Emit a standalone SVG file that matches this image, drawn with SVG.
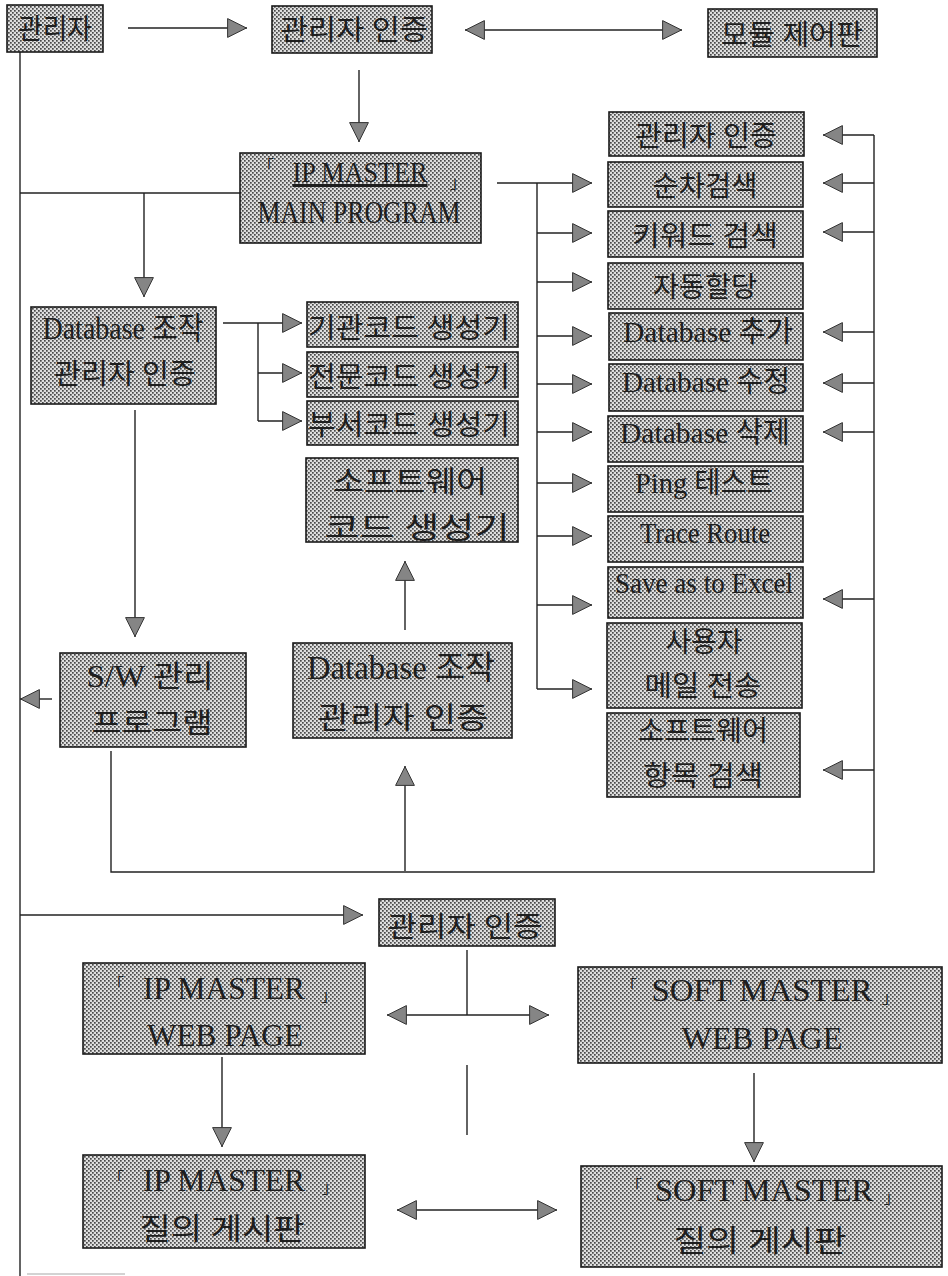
<svg xmlns="http://www.w3.org/2000/svg" width="948" height="1276" viewBox="0 0 948 1276">
<defs>
<pattern id="dots" width="4" height="4" patternUnits="userSpaceOnUse">
<rect width="4" height="4" fill="#dedede"/>
<rect x="0" y="0" width="1.7" height="1.7" fill="#4a4a4a"/>
<rect x="2" y="2" width="1.7" height="1.7" fill="#4a4a4a"/>
</pattern>
<marker id="ah" viewBox="0 0 20 20" refX="20" refY="10" markerWidth="20" markerHeight="20" markerUnits="userSpaceOnUse" orient="auto-start-reverse">
<path d="M0.6,0.6 L19.4,10 L0.6,19.4 Z" fill="#858585" stroke="#333" stroke-width="1"/>
</marker>
</defs>
<style>
.box{fill:url(#dots);stroke:#1a1a1a;stroke-width:1.6}
.t{font-family:"Liberation Serif","Noto Sans CJK KR",serif;fill:#1e1e1e;text-anchor:middle;font-size:28px}
.L{font-size:31px}
.M{font-size:29px}
.br{font-family:"Noto Sans CJK KR",sans-serif;fill:#222;text-anchor:middle;font-size:16px}
.conn path{fill:none;stroke:#222;stroke-width:1.4}
.arr{marker-end:url(#ah)}
.dbl{marker-start:url(#ah);marker-end:url(#ah)}
</style>
<rect width="948" height="1276" fill="#fff"/>

<g id="connectors" class="conn">
<path class="arr" d="M128,28 H247"/>
<path class="dbl" d="M465,30 H682"/>
<path class="arr" d="M359,70 V142"/>
<path d="M20,52 V1276"/>
<path d="M20,193 H240"/>
<path class="arr" d="M144,193 V297"/>
<path class="arr" d="M223,323 H302"/>
<path d="M258,323 V421"/>
<path class="arr" d="M258,373 H302"/>
<path class="arr" d="M258,421 H302"/>
<path class="arr" d="M135,410 V637"/>
<path class="arr" d="M52,699 H20"/>
<path d="M111,751 V872 H874 V135"/>
<path class="arr" d="M874,135 H823"/>
<path class="arr" d="M874,183 H823"/>
<path class="arr" d="M874,232 H823"/>
<path class="arr" d="M874,332 H823"/>
<path class="arr" d="M874,383 H823"/>
<path class="arr" d="M874,432 H823"/>
<path class="arr" d="M874,599 H823"/>
<path class="arr" d="M874,770 H823"/>
<path class="arr" d="M405,871 V766"/>
<path class="arr" d="M405,630 V561"/>
<path class="arr" d="M497,183 H592"/>
<path d="M537,183 V689"/>
<path class="arr" d="M537,233 H592"/>
<path class="arr" d="M537,282 H592"/>
<path class="arr" d="M537,336 H592"/>
<path class="arr" d="M537,384 H592"/>
<path class="arr" d="M537,432 H592"/>
<path class="arr" d="M537,483 H592"/>
<path class="arr" d="M537,536 H592"/>
<path class="arr" d="M537,605 H592"/>
<path class="arr" d="M537,689 H592"/>
<path class="arr" d="M20,915 H363"/>
<path d="M467,950 V1015"/>
<path class="dbl" d="M387,1015 H549"/>
<path d="M467,1065 V1135"/>
<path class="arr" d="M222,1057 V1147"/>
<path class="arr" d="M754,1073 V1162"/>
<path class="dbl" d="M397,1210 H557"/>
<path d="M27,1274 H125" style="stroke:#c4c4c4"/>
</g>

<g id="admin">
<rect class="box" x="7" y="5" width="96" height="47"/>
<text class="t" x="55" y="39" textLength="74" lengthAdjust="spacingAndGlyphs">관리자</text>
</g>
<g id="admin-auth-top">
<rect class="box" x="272" y="6" width="160" height="47"/>
<text class="t" x="354" y="40" textLength="148" lengthAdjust="spacingAndGlyphs">관리자 인증</text>
</g>
<g id="module-panel">
<rect class="box" x="708" y="9" width="169" height="48"/>
<text class="t" x="792" y="45" textLength="142" lengthAdjust="spacingAndGlyphs">모듈 제어판</text>
</g>
<g id="ip-main">
<rect class="box" x="240" y="153" width="241" height="90"/>
<text class="br" x="266" y="172">「</text>
<text class="t" x="360" y="182" textLength="135" lengthAdjust="spacingAndGlyphs" style="font-size:30px;text-decoration:underline">IP MASTER</text>
<text class="br" x="458" y="188">」</text>
<text class="t L" x="359" y="223" textLength="203" lengthAdjust="spacingAndGlyphs">MAIN PROGRAM</text>
</g>

<g id="r-auth">
<rect class="box" x="609" y="112" width="195" height="44"/>
<text class="t" x="706" y="146" textLength="142" lengthAdjust="spacingAndGlyphs">관리자 인증</text>
</g>
<g id="r-seq">
<rect class="box" x="608" y="162" width="195" height="45"/>
<text class="t" x="705" y="196" textLength="105" lengthAdjust="spacingAndGlyphs">순차검색</text>
</g>
<g id="r-keyword">
<rect class="box" x="608" y="211" width="195" height="46"/>
<text class="t" x="705" y="246" textLength="146" lengthAdjust="spacingAndGlyphs">키워드 검색</text>
</g>
<g id="r-auto">
<rect class="box" x="608" y="263" width="195" height="46"/>
<text class="t" x="705" y="297" textLength="104" lengthAdjust="spacingAndGlyphs">자동할당</text>
</g>
<g id="r-db-add">
<rect class="box" x="609" y="313" width="194" height="47"/>
<text class="t M" x="708" y="342" textLength="170" lengthAdjust="spacingAndGlyphs">Database 추가</text>
</g>
<g id="r-db-mod">
<rect class="box" x="609" y="364" width="194" height="47"/>
<text class="t M" x="706" y="392" textLength="168" lengthAdjust="spacingAndGlyphs">Database 수정</text>
</g>
<g id="r-db-del">
<rect class="box" x="608" y="416" width="195" height="46"/>
<text class="t M" x="705" y="443" textLength="170" lengthAdjust="spacingAndGlyphs">Database 삭제</text>
</g>
<g id="r-ping">
<rect class="box" x="608" y="466" width="195" height="46"/>
<text class="t M" x="704" y="493" textLength="138" lengthAdjust="spacingAndGlyphs">Ping 테스트</text>
</g>
<g id="r-trace">
<rect class="box" x="608" y="516" width="195" height="46"/>
<text class="t M" x="705" y="543" textLength="130" lengthAdjust="spacingAndGlyphs">Trace Route</text>
</g>
<g id="r-excel">
<rect class="box" x="608" y="567" width="195" height="51"/>
<text class="t M" x="704" y="593" textLength="178" lengthAdjust="spacingAndGlyphs">Save as to Excel</text>
</g>
<g id="r-mail">
<rect class="box" x="607" y="623" width="195" height="85"/>
<text class="t" x="704" y="652" textLength="77" lengthAdjust="spacingAndGlyphs">사용자</text>
<text class="t" x="703" y="696" textLength="117" lengthAdjust="spacingAndGlyphs">메일 전송</text>
</g>
<g id="r-sw-search">
<rect class="box" x="607" y="713" width="193" height="84"/>
<text class="t" x="703" y="741" textLength="130" lengthAdjust="spacingAndGlyphs">소프트웨어</text>
<text class="t" x="703" y="786" textLength="120" lengthAdjust="spacingAndGlyphs">항목 검색</text>
</g>

<g id="db-left">
<rect class="box" x="31" y="307" width="185" height="97"/>
<text class="t L" x="123" y="339" textLength="161" lengthAdjust="spacingAndGlyphs">Database 조작</text>
<text class="t" x="125" y="384" textLength="142" lengthAdjust="spacingAndGlyphs">관리자 인증</text>
</g>
<g id="gen-org">
<rect class="box" x="307" y="302" width="211" height="45"/>
<text class="t" x="409" y="338" textLength="202" lengthAdjust="spacingAndGlyphs">기관코드 생성기</text>
</g>
<g id="gen-spec">
<rect class="box" x="307" y="352" width="211" height="45"/>
<text class="t" x="409" y="387" textLength="202" lengthAdjust="spacingAndGlyphs">전문코드 생성기</text>
</g>
<g id="gen-dept">
<rect class="box" x="307" y="401" width="211" height="44"/>
<text class="t" x="409" y="435" textLength="202" lengthAdjust="spacingAndGlyphs">부서코드 생성기</text>
</g>
<g id="gen-sw">
<rect class="box" x="306" y="458" width="212" height="84"/>
<text class="t" x="410" y="492" textLength="154" lengthAdjust="spacingAndGlyphs" style="font-size:30px">소프트웨어</text>
<text class="t" x="417" y="538" textLength="185" lengthAdjust="spacingAndGlyphs" style="font-size:30px">코드 생성기</text>
</g>
<g id="sw-mgmt">
<rect class="box" x="60" y="653" width="186" height="94"/>
<text class="t L" x="150" y="687" textLength="127" lengthAdjust="spacingAndGlyphs">S/W 관리</text>
<text class="t" x="152" y="733" textLength="121" lengthAdjust="spacingAndGlyphs">프로그램</text>
</g>
<g id="db-center">
<rect class="box" x="293" y="643" width="219" height="95"/>
<text class="t" x="401" y="679" textLength="188" lengthAdjust="spacingAndGlyphs" style="font-size:33px">Database 조작</text>
<text class="t" x="403" y="728" textLength="171" lengthAdjust="spacingAndGlyphs" style="font-size:30px">관리자 인증</text>
</g>

<g id="admin-auth-bottom">
<rect class="box" x="379" y="899" width="176" height="47"/>
<text class="t" x="465" y="937" textLength="155" lengthAdjust="spacingAndGlyphs">관리자 인증</text>
</g>
<g id="ip-web">
<rect class="box" x="83" y="963" width="282" height="91"/>
<text class="br" x="116" y="990">「</text>
<text class="t" x="224" y="999" textLength="162" lengthAdjust="spacingAndGlyphs" style="font-size:32px">IP MASTER</text>
<text class="br" x="329" y="1001">」</text>
<text class="t" x="225" y="1046" textLength="156" lengthAdjust="spacingAndGlyphs" style="font-size:32px">WEB PAGE</text>
</g>
<g id="ip-board">
<rect class="box" x="83" y="1155" width="282" height="93"/>
<text class="br" x="116" y="1184">「</text>
<text class="t" x="224" y="1191" textLength="162" lengthAdjust="spacingAndGlyphs" style="font-size:32px">IP MASTER</text>
<text class="br" x="330" y="1193">」</text>
<text class="t" x="222" y="1239" textLength="165" lengthAdjust="spacingAndGlyphs" style="font-size:30px">질의 게시판</text>
</g>
<g id="soft-web">
<rect class="box" x="578" y="967" width="364" height="96"/>
<text class="br" x="629" y="992">「</text>
<text class="t" x="762" y="1001" textLength="221" lengthAdjust="spacingAndGlyphs" style="font-size:32px">SOFT MASTER</text>
<text class="br" x="890" y="1003">」</text>
<text class="t" x="762" y="1049" textLength="161" lengthAdjust="spacingAndGlyphs" style="font-size:32px">WEB PAGE</text>
</g>
<g id="soft-board">
<rect class="box" x="581" y="1166" width="361" height="101"/>
<text class="br" x="634" y="1192">「</text>
<text class="t" x="764" y="1201" textLength="218" lengthAdjust="spacingAndGlyphs" style="font-size:32px">SOFT MASTER</text>
<text class="br" x="892" y="1203">」</text>
<text class="t" x="760" y="1251" textLength="173" lengthAdjust="spacingAndGlyphs" style="font-size:30px">질의 게시판</text>
</g>
</svg>
